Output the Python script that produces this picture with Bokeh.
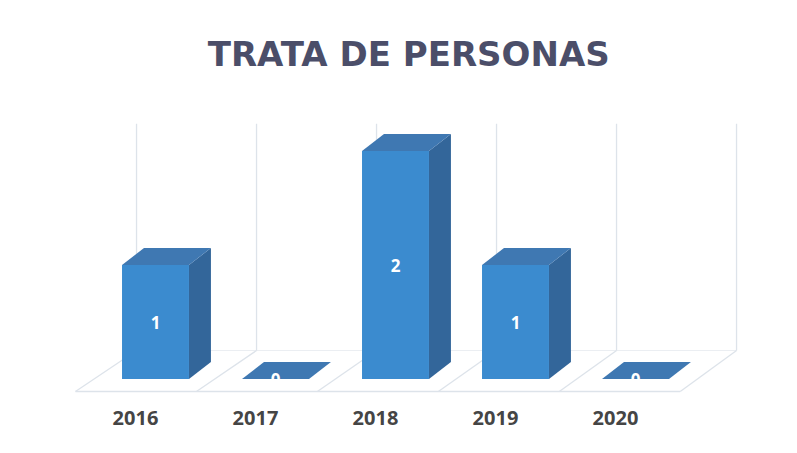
import numpy as np
from bokeh.plotting import figure
from bokeh.models import Range1d
from bokeh.core.properties import value
from bokeh.embed import file_html
from bokeh.resources import INLINE

# ---- data ----
title_text = "TRATA DE PERSONAS"
years = ["2016", "2017", "2018", "2019", "2020"]
counts = [1, 0, 2, 1, 0]

# ---- geometry (layout constants) ----
W, H = 781, 437
SX, SY = 120.0, 114.0          # px per category / px per unit value
X0, Y0 = 155.0, 58.5           # px of category 0 centre (from left) / value 0 (from bottom)

p = figure(width=W, height=H, output_backend="svg", toolbar_location=None,
           x_range=Range1d(-X0 / SX, (W - X0) / SX),
           y_range=Range1d(-Y0 / SY, (H - Y0) / SY),
           x_axis_location=None, y_axis_location=None,
           min_border=0, background_fill_color="white", border_fill_color="white")
p.grid.visible = False
p.outline_line_color = None

n = len(years)
idx = np.arange(n)
vals = np.array(counts, dtype=float)

# ---- floor and back wall (3D frame) ----
grid_col = "#dde3ea"
front_y, back_y, wall_top = -0.11, 0.25, 2.24
front_x0, front_step, back_x0 = -0.667, 1.008, -0.158
k = np.arange(n + 1)
fx = front_x0 + front_step * k
bx = back_x0 + k
p.multi_line(xs=[[a, b] for a, b in zip(fx, bx)],
             ys=[[front_y, back_y] for _ in k],
             line_color=grid_col, line_width=1.3)
p.line(x=[fx[0], fx[-1]], y=[front_y, front_y], line_color=grid_col, line_width=1.5)
p.line(x=[bx[0], bx[-1]], y=[back_y, back_y], line_color=grid_col, line_width=1.0, line_alpha=0.6)
p.multi_line(xs=[[b, b] for b in bx], ys=[[back_y, wall_top] for _ in bx],
             line_color=grid_col, line_width=1.3)

# ---- 3D bars ----
hw, dx, dy = 0.279, 0.183, 0.149
front_xs, front_ys, side_xs, side_ys, top_xs, top_ys = [], [], [], [], [], []
for i, v in zip(idx, vals):
    top_xs.append([i - hw, i + hw, i + hw + dx, i - hw + dx])
    top_ys.append([v, v, v + dy, v + dy])
    if v > 0:
        front_xs.append([i - hw, i + hw, i + hw, i - hw])
        front_ys.append([0, 0, v, v])
        side_xs.append([i + hw, i + hw + dx, i + hw + dx, i + hw])
        side_ys.append([0, dy, v + dy, v])

p.patches(xs=side_xs, ys=side_ys, fill_color="#33669a", line_color=None)
p.patches(xs=top_xs, ys=top_ys, fill_color="#3f78b2", line_color=None)
p.patches(xs=front_xs, ys=front_ys, fill_color="#3b8bcf", line_color=None)

# data labels
lab_y = np.where(vals > 0, vals / 2.0, 0.0)
p.text(x=idx, y=lab_y, text=[str(c) for c in counts],
       text_font=value("Open Sans"), text_font_size="17px", text_font_style="bold",
       text_color="white", text_align="center", text_baseline="middle")

# category labels
p.text(x=idx - 0.167, y=[-0.346] * n, text=years,
       text_font=value("Open Sans"), text_font_size="20px", text_font_style="bold",
       text_color="#454545", text_align="center", text_baseline="middle")

# title
p.text(x=[2.11], y=[2.85], text=[title_text],
       text_font=value("DejaVu Sans"), text_font_size="34px", text_font_style="bold",
       text_color="#4b4e69", text_align="center", text_baseline="middle")

open("out.html", "w").write(file_html(p, INLINE))
